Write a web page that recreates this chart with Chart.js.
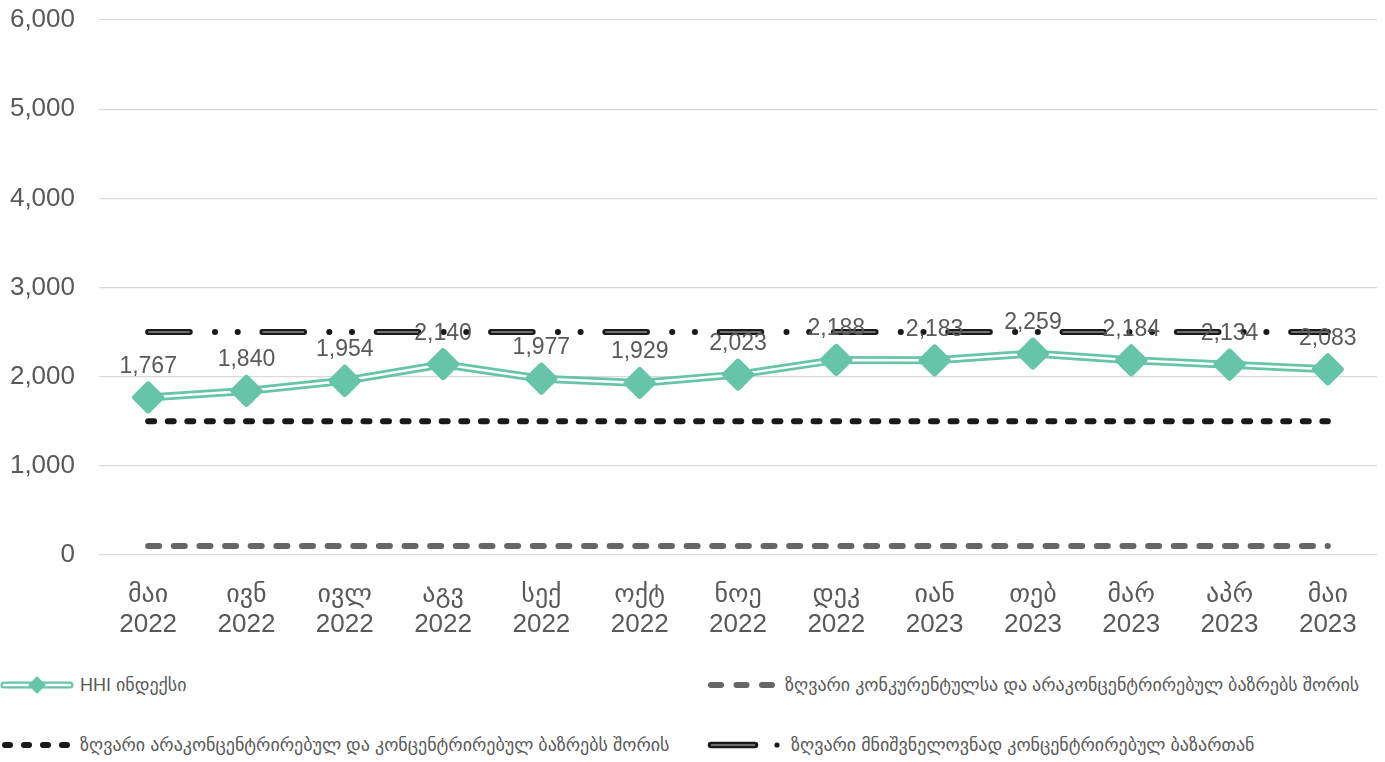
<!DOCTYPE html>
<html>
<head>
<meta charset="utf-8">
<script src="https://cdn.jsdelivr.net/npm/chart.js@4.4.0/dist/chart.umd.min.js"></script>
<style>
  html, body { margin: 0; padding: 0; background: #fff; }
  body { width: 1385px; height: 762px; position: relative; overflow: hidden;
         font-family: "Liberation Sans", Arial, "DejaVu Sans", sans-serif; }
  #wrap { position: absolute; left: 0; top: 0; width: 1385px; height: 650px; }
  .legend-item { position: absolute; height: 20px; display: flex; align-items: center;
                 font-size: 18px; color: #595959; white-space: nowrap; }
  .legend-item svg { display: block; margin-right: 6px; }
</style>
</head>
<body>
<div id="wrap"><canvas id="hhi-chart" width="1385" height="650"></canvas></div>

<div class="legend-item" style="left:0;top:675px">
  <svg width="74" height="20">
    <line x1="4" y1="10" x2="70" y2="10" stroke="#66c5a8" stroke-width="7" stroke-linecap="round"/>
    <line x1="4" y1="10" x2="70" y2="10" stroke="#fff" stroke-width="2.5" stroke-linecap="round"/>
    <path d="M37 2.5 L44.5 10 L37 17.5 L29.5 10 Z" fill="#66c5a8" stroke="#66c5a8" stroke-width="2" stroke-linejoin="round"/>
  </svg>
  <span>HHI ინდექსი</span>
</div>
<div class="legend-item" style="left:705px;top:675px">
  <svg width="74" height="20">
    <line x1="6" y1="10" x2="72" y2="10" stroke="#666" stroke-width="6" stroke-linecap="round" stroke-dasharray="10 15.5"/>
  </svg>
  <span>ზღვარი კონკურენტულსა და არაკონცენტრირებულ ბაზრებს შორის</span>
</div>
<div class="legend-item" style="left:0;top:735px">
  <svg width="74" height="20">
    <line x1="5" y1="10" x2="70" y2="10" stroke="#1a1a1a" stroke-width="6" stroke-linecap="round" stroke-dasharray="5 14"/>
  </svg>
  <span>ზღვარი არაკონცენტრირებულ და კონცენტრირებულ ბაზრებს შორის</span>
</div>
<div class="legend-item" style="left:705px;top:735px">
  <svg width="80" height="20">
    <line x1="6" y1="10" x2="50" y2="10" stroke="#1a1a1a" stroke-width="6.5" stroke-linecap="round"/>
    <line x1="6" y1="10" x2="50" y2="10" stroke="#8c8c8c" stroke-width="1.5"/>
    <circle cx="72" cy="10" r="2.6" fill="#1a1a1a"/>
  </svg>
  <span>ზღვარი მნიშვნელოვნად კონცენტრირებულ ბაზართან</span>
</div>

<script>
// months / years for the two-line x labels
const months = ['მაი', 'ივნ', 'ივლ', 'აგვ', 'სექ', 'ოქტ', 'ნოე', 'დეკ', 'იან', 'თებ', 'მარ', 'აპრ', 'მაი'];
const years = ['2022', '2022', '2022', '2022', '2022', '2022', '2022', '2022', '2023', '2023', '2023', '2023', '2023'];

// HHI index per month
const hhiValues = [1767, 1840, 1954, 2140, 1977, 1929, 2023, 2188, 2183, 2259, 2184, 2134, 2083];

// market concentration thresholds
const competitiveLimit = [100, 100, 100, 100, 100, 100, 100, 100, 100, 100, 100, 100, 100];
const unconcentratedLimit = [1500, 1500, 1500, 1500, 1500, 1500, 1500, 1500, 1500, 1500, 1500, 1500, 1500];
const highlyConcentratedLimit = [2500, 2500, 2500, 2500, 2500, 2500, 2500, 2500, 2500, 2500, 2500, 2500, 2500];

const yTickValues = [0, 1000, 2000, 3000, 4000, 5000, 6000];

const labels = months.map((m, i) => [m, years[i]]);
const GREEN = '#66c5a8';
const TEXT = '#595959';

// rounded diamond corners for the HHI markers
const roundJoin = {
  id: 'roundJoin',
  beforeDatasetDraw(chart, args) {
    if (chart.data.datasets[args.index].roundMarkers) chart.ctx.lineJoin = 'round';
  }
};

// value labels above the HHI markers
const valueLabels = {
  id: 'valueLabels',
  afterDatasetsDraw(chart) {
    const idx = chart.data.datasets.findIndex(d => d.roundMarkers);
    const meta = chart.getDatasetMeta(idx);
    const ctx = chart.ctx;
    ctx.save();
    ctx.font = '23px "Liberation Sans", Arial, sans-serif';
    ctx.fillStyle = TEXT;
    ctx.textAlign = 'center';
    ctx.textBaseline = 'middle';
    meta.data.forEach((pt, i) => {
      ctx.fillText(hhiValues[i].toLocaleString('en-US'), pt.x, pt.y - 31);
    });
    ctx.restore();
  }
};

new Chart(document.getElementById('hhi-chart'), {
  type: 'line',
  data: {
    labels: labels,
    datasets: [
      {
        label: 'HHI ინდექსი',
        data: hhiValues,
        showLine: false,
        roundMarkers: true,
        pointStyle: 'rectRot',
        pointRadius: 13,
        pointHoverRadius: 13,
        pointBorderWidth: 6,
        pointBackgroundColor: GREEN,
        pointBorderColor: GREEN,
        order: 0,
      },
      {
        data: hhiValues,
        borderColor: '#fff',
        borderWidth: 2.5,
        pointRadius: 0,
        tension: 0,
        order: 1,
      },
      {
        data: hhiValues,
        borderColor: GREEN,
        borderWidth: 8,
        pointRadius: 0,
        tension: 0,
        order: 2,
      },
      {
        label: 'ზღვარი კონკურენტულსა და არაკონცენტრირებულ ბაზრებს შორის',
        data: competitiveLimit,
        borderColor: '#666',
        borderWidth: 6,
        borderDash: [11, 14.64],
        borderCapStyle: 'round',
        pointRadius: 0,
        order: 5,
      },
      {
        label: 'ზღვარი არაკონცენტრირებულ და კონცენტრირებულ ბაზრებს შორის',
        data: unconcentratedLimit,
        borderColor: '#1a1a1a',
        borderWidth: 6,
        borderDash: [6, 13.57],
        borderCapStyle: 'round',
        pointRadius: 0,
        order: 5,
      },
      {
        data: highlyConcentratedLimit,
        borderColor: '#8c8c8c',
        borderWidth: 1.5,
        borderDash: [41.6, 72.7],
        borderCapStyle: 'butt',
        pointRadius: 0,
        order: 3,
      },
      {
        label: 'ზღვარი მნიშვნელოვნად კონცენტრირებულ ბაზართან',
        data: highlyConcentratedLimit,
        borderColor: '#1a1a1a',
        borderWidth: 6,
        borderDash: [41.6, 25.2, 0.1, 22.6, 0.1, 24.7],
        borderCapStyle: 'round',
        pointRadius: 0,
        order: 4,
      },
    ],
  },
  options: {
    responsive: false,
    animation: false,
    layout: { autoPadding: false, padding: { top: 20, right: 8, left: 0, bottom: 0 } },
    plugins: {
      legend: { display: false },
      tooltip: { enabled: false },
    },
    scales: {
      x: {
        offset: true,
        grid: { display: false },
        border: { display: false },
        ticks: {
          color: TEXT,
          padding: 17,
          maxRotation: 0,
          autoSkip: false,
          font: { size: 26, family: '"Liberation Sans", Arial, "DejaVu Sans", sans-serif', lineHeight: 1.15 },
        },
        afterFit(scale) {
          scale.height = 95;
          scale.paddingLeft = 0;
          scale.paddingRight = 0;
        },
      },
      y: {
        min: 0,
        max: 6000,
        afterBuildTicks(scale) { scale.ticks = yTickValues.map(v => ({ value: v })); },
        grid: { color: '#d9d9d9', lineWidth: 1.3, drawTicks: false },
        border: { display: false },
        ticks: {
          color: TEXT,
          padding: 24,
          font: { size: 26, family: '"Liberation Sans", Arial, sans-serif' },
          callback: v => v.toLocaleString('en-US'),
        },
        afterFit(scale) {
          scale.width = 99;
          scale.paddingTop = 0;
          scale.paddingBottom = 0;
        },
      },
    },
  },
  plugins: [roundJoin, valueLabels],
});
</script>
</body>
</html>
